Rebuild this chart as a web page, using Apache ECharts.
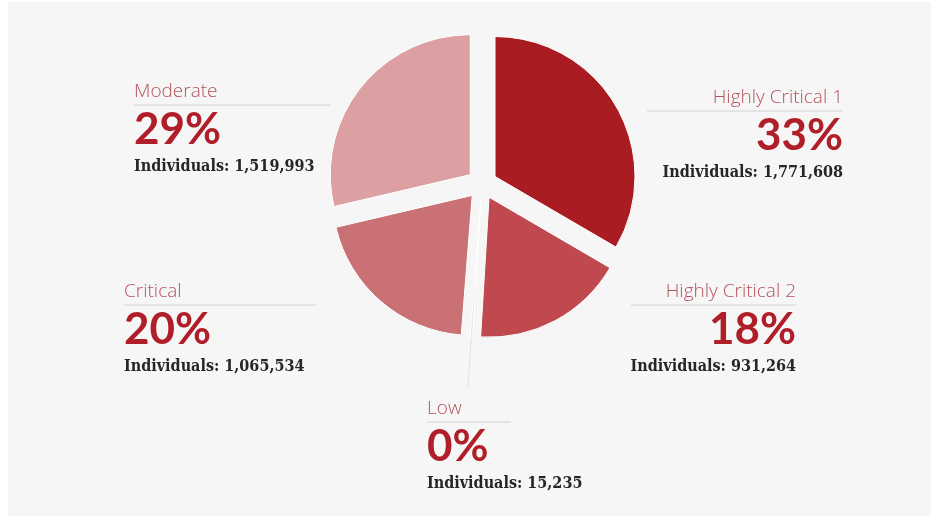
<!DOCTYPE html>
<html lang="en">
<head>
<meta charset="UTF-8">
<title>Individuals by risk level</title>
<script src="https://cdn.jsdelivr.net/npm/echarts@6/dist/echarts.min.js"></script>
<style>
    html, body { margin: 0; padding: 0; background: #fff; }
    #panel { position: absolute; left: 8px; top: 2px; right: 0; bottom: 0; background: #f6f6f6; }
    #charts { position: absolute; left: 0; top: 0; width: 931px; height: 516px; }
</style>
</head>
<body>
<div id="panel"></div>
<div id="charts"></div>
<script>
    // data, clockwise from 12 o'clock
    var levels = ['Highly Critical 1', 'Highly Critical 2', 'Low', 'Critical', 'Moderate'];
    var individuals = [1771608, 931264, 15235, 1065534, 1519993];

    var sliceColors = ['#a91c22', '#bf494e', '#ece4e4', '#c97174', '#dca0a2'];
    // label spot: x, y (top), align, width of the rule under the name
    var labelSpots = [
        [843, 85, 'right', 196],
        [796, 279, 'right', 165],
        [427, 396, 'left', 84],
        [124, 279, 'left', 192],
        [134, 79, 'left', 197]
    ];

    function toThousands(num) {
        var num = (num || 0).toString(), result = '';
        while (num.length > 3) {
            result = ',' + num.slice(-3) + result;
            num = num.slice(0, num.length - 3);
        }
        if (num) {
            result = num + result;
        }
        return result;
    }

    var rich = {
        name: {
            fontFamily: '"Open Sans"',
            fontWeight: 300,
            fontSize: 19,
            lineHeight: 26,
            color: '#b2545b'
        },
        pct: {
            fontFamily: 'Lato',
            fontWeight: 'bold',
            fontSize: 44,
            lineHeight: 50,
            color: '#b01f29'
        },
        ind: {
            fontFamily: '"DejaVu Serif Condensed", "DejaVu Serif"',
            fontWeight: 'bold',
            fontSize: 16,
            lineHeight: 24,
            color: '#262626'
        }
    };
    for (var i = 0; i < labelSpots.length; i++) {
        rich['hr' + i] = {
            width: labelSpots[i][3],
            height: 0,
            borderWidth: 1,
            borderColor: '#dedede'
        };
    }

    // exploded slices (selected state moves them out)
    var sliceData = levels.map(function (name, i) {
        return {
            name: name,
            value: individuals[i],
            selected: true,
            itemStyle: { color: sliceColors[i] }
        };
    });
    // same values again, invisible, only to carry the labels
    var labelData = levels.map(function (name, i) {
        return {
            name: name,
            value: individuals[i],
            labelLine: { show: name === 'Low' }
        };
    });

    var option = {
        backgroundColor: 'transparent',
        animation: false,
        series: [{
            type: 'pie',
            center: [482, 184],
            radius: 140,
            startAngle: 90,
            clockwise: true,
            selectedMode: 'multiple',
            selectedOffset: 15,
            itemStyle: {
                borderColor: '#ffffff',
                borderWidth: 1
            },
            select: {
                itemStyle: {
                    borderColor: '#ffffff',
                    borderWidth: 1
                }
            },
            emphasis: { disabled: true },
            label: { show: false },
            labelLine: { show: false },
            data: sliceData
        }, {
            type: 'pie',
            center: [482, 184],
            radius: 140,
            startAngle: 90,
            clockwise: true,
            silent: true,
            avoidLabelOverlap: false,
            itemStyle: {
                color: 'rgba(0,0,0,0)',
                borderWidth: 0
            },
            emphasis: { disabled: true },
            label: {
                show: true,
                position: 'outside',
                formatter: function (p) {
                    return '{name|' + p.name + '}\n{hr' + p.dataIndex + '|}\n{pct|' +
                        Math.round(p.percent) + '%}\n{ind|Individuals: ' + toThousands(p.value) + '}';
                },
                rich: rich
            },
            labelLine: {
                show: false,
                length: 30,
                length2: 0,
                lineStyle: { color: '#dde1e1', width: 1 }
            },
            labelLayout: function (params) {
                var s = labelSpots[params.dataIndex];
                var out = { x: s[0], y: s[1], align: s[2], verticalAlign: 'top' };
                var pts = params.labelLinePoints;
                if (pts && pts.length > 1) {
                    // keep the leader straight along the slice, stop just above the label
                    var a = pts[0], b = pts[1];
                    var endY = s[1] - 8;
                    var t = (endY - a[1]) / (b[1] - a[1]);
                    out.labelLinePoints = [a, [a[0] + (b[0] - a[0]) * t, endY]];
                }
                return out;
            },
            data: labelData
        }]
    };

    var myChart = echarts.init(document.getElementById('charts'));
    myChart.setOption(option);
</script>
</body>
</html>
